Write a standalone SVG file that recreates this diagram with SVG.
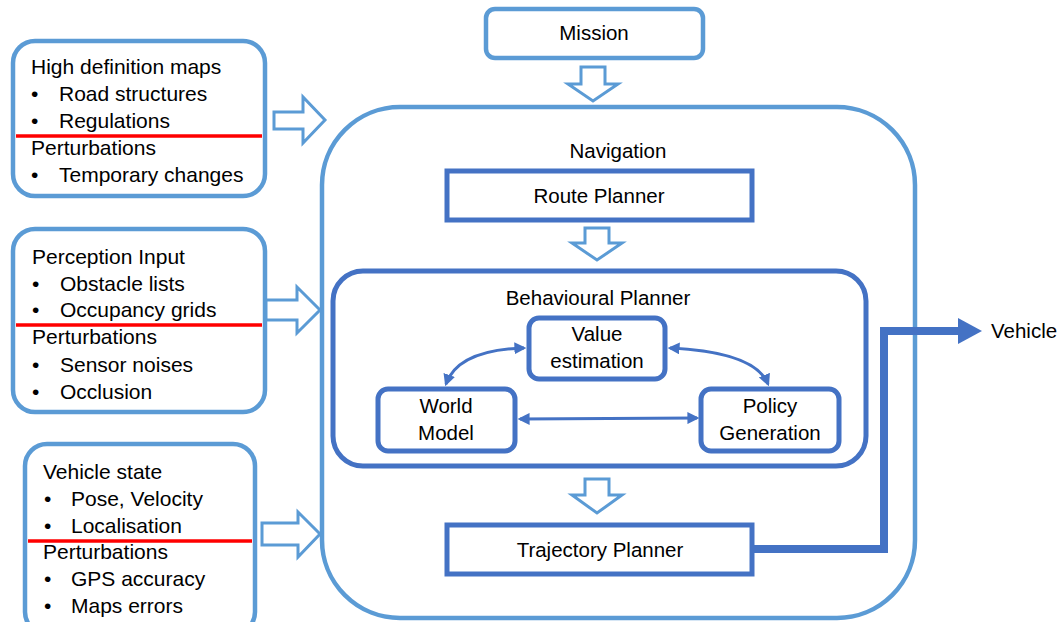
<svg xmlns="http://www.w3.org/2000/svg" width="1059" height="622" viewBox="0 0 1059 622">
<defs>
<style>
text{font-family:"Liberation Sans",Arial,sans-serif;font-size:20.5px;fill:#000}
.l text{font-size:21px}
.c{text-anchor:middle}
.lb{fill:#fff;stroke:#5B9BD5;stroke-width:4.5}
.db{fill:#fff;stroke:#4472C4;stroke-width:5}
.red{stroke:#FF0000;stroke-width:3.5}
.ha{fill:#fff;stroke:#5B9BD5;stroke-width:3;stroke-linejoin:miter}
.cn{fill:none;stroke:#4472C4;stroke-width:3}
</style>
<marker id="ah" viewBox="0 0 10 10" refX="8" refY="5" markerWidth="4" markerHeight="4" orient="auto-start-reverse" markerUnits="strokeWidth">
<path d="M0,0 L10,5 L0,10 z" fill="#4472C4"/>
</marker>
</defs>
<rect width="1059" height="622" fill="#fff"/>

<g id="navigation">
<rect class="lb" x="322" y="107" width="593" height="511" rx="78"/>
<text class="c" x="618" y="158">Navigation</text>
</g>

<g id="mission">
<rect class="lb" x="486" y="9" width="217" height="49" rx="9"/>
<text class="c" x="594" y="40">Mission</text>
</g>

<g id="hd-maps" class="l">
<rect class="lb" x="13" y="41" width="252" height="155" rx="22"/>
<line class="red" x1="16" y1="136" x2="262" y2="136"/>
<text x="31" y="74">High definition maps</text>
<text x="31" y="101">•</text><text x="59" y="101">Road structures</text>
<text x="31" y="128">•</text><text x="59" y="128">Regulations</text>
<text x="31" y="155">Perturbations</text>
<text x="31" y="182">•</text><text x="59" y="182">Temporary changes</text>
</g>

<g id="perception" class="l">
<rect class="lb" x="13" y="229" width="252" height="183" rx="22"/>
<line class="red" x1="16" y1="325" x2="262" y2="325"/>
<text x="32" y="264">Perception Input</text>
<text x="32" y="291">•</text><text x="60" y="291">Obstacle lists</text>
<text x="32" y="317">•</text><text x="60" y="317">Occupancy grids</text>
<text x="32" y="344">Perturbations</text>
<text x="32" y="372">•</text><text x="60" y="372">Sensor noises</text>
<text x="32" y="399">•</text><text x="60" y="399">Occlusion</text>
</g>

<g id="vehicle-state" class="l">
<rect class="lb" x="25" y="444" width="230" height="190" rx="22"/>
<line class="red" x1="28" y1="541" x2="252" y2="541"/>
<text x="43" y="479">Vehicle state</text>
<text x="44" y="506">•</text><text x="71" y="506">Pose, Velocity</text>
<text x="44" y="533">•</text><text x="71" y="533">Localisation</text>
<text x="43" y="559">Perturbations</text>
<text x="44" y="586">•</text><text x="71" y="586">GPS accuracy</text>
<text x="44" y="613">•</text><text x="71" y="613">Maps errors</text>
</g>

<g id="route-planner">
<rect class="db" x="447" y="171" width="305" height="49"/>
<text class="c" x="599" y="203">Route Planner</text>
</g>

<g id="behavioural-planner">
<rect class="db" x="333" y="271" width="533" height="195" rx="30"/>
<text class="c" x="598" y="305">Behavioural Planner</text>
</g>

<g id="value-estimation">
<rect class="db" x="529" y="318" width="136" height="61" rx="10"/>
<text class="c" x="597" y="341">Value</text>
<text class="c" x="597" y="368">estimation</text>
</g>

<g id="world-model">
<rect class="db" x="378" y="389" width="137" height="62" rx="10"/>
<text class="c" x="446" y="413">World</text>
<text class="c" x="446" y="440">Model</text>
</g>

<g id="policy-generation">
<rect class="db" x="701" y="389" width="138" height="62" rx="10"/>
<text class="c" x="770" y="413">Policy</text>
<text class="c" x="770" y="440">Generation</text>
</g>

<g id="trajectory-planner">
<rect class="db" x="447" y="525" width="305" height="49"/>
<text class="c" x="600" y="557">Trajectory Planner</text>
</g>

<g id="vehicle">
<text x="991" y="338">Vehicle</text>
</g>

<g id="connectors">
<polygon class="ha" points="274,112 303,112 303,97 325,120 303,143 303,129 274,129"/>
<polygon class="ha" points="266,300 297,300 297,287 320,310 297,333 297,320 266,320"/>
<polygon class="ha" points="262,523 298,523 298,512 320,534 298,557 298,545 262,545"/>
<polygon class="ha" points="581,67 605,67 605,84 618,84 593,101 568,84 581,84"/>
<polygon class="ha" points="585,228 609,228 609,243 622,243 597,260 572,243 585,243"/>
<polygon class="ha" points="585,479 609,479 609,495 622,495 597,513 572,495 585,495"/>
<path class="cn" d="M446,384 Q458,350 524,348" marker-start="url(#ah)" marker-end="url(#ah)"/>
<path class="cn" d="M670,348 Q755,352 768,384" marker-start="url(#ah)" marker-end="url(#ah)"/>
<path class="cn" d="M520,419 L697,418" marker-start="url(#ah)" marker-end="url(#ah)"/>
<polyline fill="none" stroke="#4472C4" stroke-width="8" points="752,549 884,549 884,331 960,331"/>
<polygon fill="#4472C4" points="958,318 982,331 958,344"/>
</g>
</svg>
